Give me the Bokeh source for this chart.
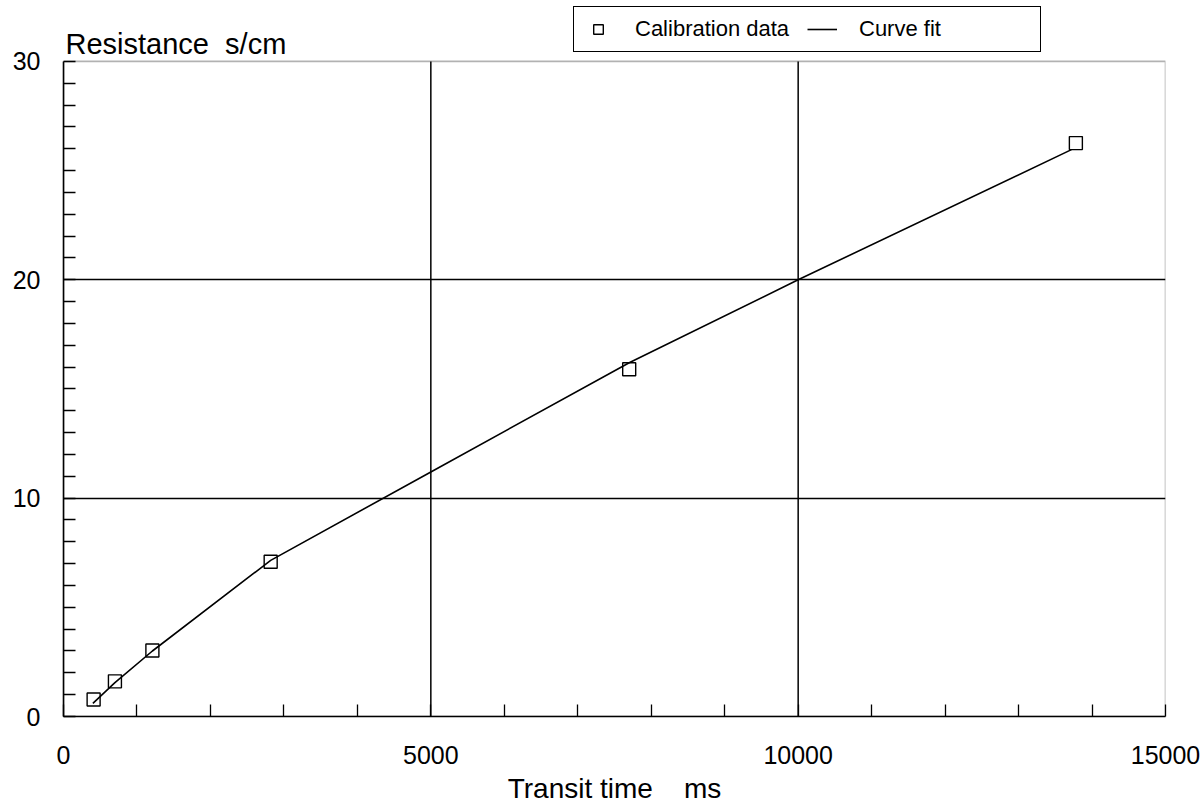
from bokeh.plotting import figure
from bokeh.models import FixedTicker, Label, Legend, LegendItem, BoxAnnotation
from bokeh.embed import file_html
from bokeh.resources import INLINE

# Calibration data (transit time ms, resistance s/cm)
cal_x = [410, 700, 1210, 2820, 7700, 13780]
cal_y = [0.78, 1.61, 3.02, 7.09, 15.9, 26.26]

# Curve fit
fit_x = [400, 700, 1210, 2820, 5000, 7700, 10000, 13720]
fit_y = [0.6, 1.55, 3.0, 7.15, 11.2, 16.2, 20.0, 25.96]

x_major = [0, 5000, 10000, 15000]
x_minor = list(range(0, 15001, 1000))
y_major = [0, 10, 20, 30]
y_minor = list(range(0, 31))
x_grid = [5000, 10000]
y_grid = [10, 20]

X_MAX = 15000
Y_MAX = 30

FONT = "Liberation Sans"
NB = "\u00a0"

# layout (pixels)
W, H = 1204, 806
LEFT, RIGHT, BOTTOM = 63, 39, 89
BOX_TOP = 61                      # pixel row of the top of the plot box
frame_h = H - BOTTOM
y_top = Y_MAX * frame_h / (frame_h - BOX_TOP)   # extend range so text above box is inside frame

p = figure(width=W, height=H, x_range=(0, X_MAX), y_range=(0, y_top),
           output_backend="svg", toolbar_location=None,
           min_border_left=LEFT, min_border_right=RIGHT,
           min_border_top=0, min_border_bottom=BOTTOM)

p.background_fill_color = "white"
p.border_fill_color = "white"
p.outline_line_color = None

for ax, maj, mnr in ((p.xaxis, x_major, x_minor), (p.yaxis, y_major, y_minor)):
    ax.ticker = FixedTicker(ticks=maj, minor_ticks=mnr)
    ax.axis_line_color = "black"
    ax.axis_line_width = 1.6
    ax.major_tick_in = 0
    ax.major_tick_out = 0
    ax.minor_tick_in = 12
    ax.minor_tick_out = 0
    ax.minor_tick_line_color = "black"
    ax.minor_tick_line_width = 1.3
    ax.major_label_text_font = FONT
    ax.major_label_text_font_size = "25px"
    ax.major_label_text_color = "black"

p.yaxis.bounds = (0, Y_MAX)
p.xaxis.major_label_standoff = 29
p.yaxis.major_label_standoff = 23

p.xaxis.axis_label = "Transit time" + NB * 4 + "ms"
p.xaxis.axis_label_text_font = FONT
p.xaxis.axis_label_text_font_size = "28px"
p.xaxis.axis_label_text_font_style = "normal"
p.xaxis.axis_label_text_color = "black"
p.xaxis.axis_label_standoff = 6

# plot box
p.add_layout(BoxAnnotation(left=0, right=X_MAX, bottom=0, top=Y_MAX,
                           fill_alpha=0, line_color="black", line_width=1.6))

p.xgrid.visible = False
p.ygrid.ticker = FixedTicker(ticks=y_grid)
p.ygrid.grid_line_color = "black"
p.ygrid.grid_line_width = 1.5
p.ygrid.grid_line_alpha = 1.0
p.segment(x0=x_grid, y0=[0] * len(x_grid), x1=x_grid, y1=[Y_MAX] * len(x_grid),
          line_color="black", line_width=1.5)

sq = p.scatter(cal_x, cal_y, marker="square", size=13, line_color="black",
               line_width=1.4, fill_alpha=0)
ln = p.line(fit_x, fit_y, line_color="black", line_width=1.6)

legend = Legend(items=[LegendItem(label="Calibration data", renderers=[sq]),
                       LegendItem(label="Curve fit", renderers=[ln])],
                orientation="horizontal", location=(510, frame_h - 53),
                border_line_color="black", border_line_width=1.3, border_line_alpha=1.0,
                background_fill_color="white", background_fill_alpha=1.0,
                label_text_font=FONT, label_text_font_size="22px",
                label_text_color="black",
                padding=9, spacing=0, margin=0,
                glyph_width=30, glyph_height=24, label_height=24,
                label_width=172, label_standoff=22)
p.add_layout(legend, "center")

ylab = Label(x=0, y=Y_MAX, x_offset=2, y_offset=17, text="Resistance" + NB * 2 + "s/cm",
             text_font=FONT, text_font_size="29px", text_color="black",
             text_baseline="alphabetic", text_align="left")
p.add_layout(ylab)

open("out.html", "w").write(file_html(p, INLINE))
